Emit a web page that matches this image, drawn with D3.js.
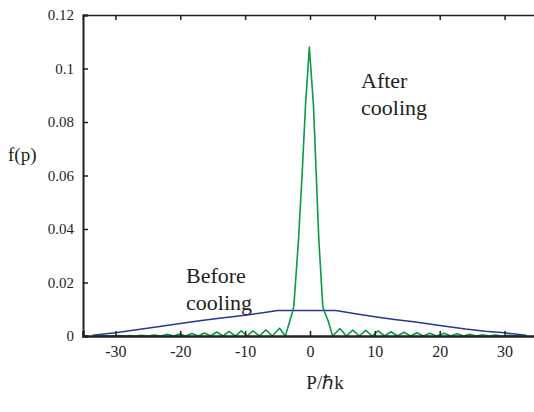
<!DOCTYPE html>
<html>
<head>
<meta charset="utf-8">
<script src="https://cdn.jsdelivr.net/npm/d3@7"></script>
<style>
  body { margin: 0; background: #fff; }
  svg { display: block; }
</style>
</head>
<body>
<svg id="chart"></svg>
<script>
// momentum axis ticks and f(p) ticks
const xTicks = [-30, -20, -10, 0, 10, 20, 30];
const yTicks = [0, 0.02, 0.04, 0.06, 0.08, 0.1, 0.12];

// before cooling (blue)
const beforeP = [-33.5, -30, -27, -24, -20, -17, -14, -10, -7, -5, 0, 4, 7, 10, 13, 16, 20, 24, 27, 30, 33.3];
const beforeF = [0.0003, 0.0012, 0.0022, 0.0033, 0.0047, 0.0057, 0.0066, 0.0078, 0.0088, 0.0095, 0.0095, 0.0095, 0.0083, 0.0072, 0.0062, 0.0053, 0.0039, 0.0026, 0.0018, 0.0012, 0.0003];

// after cooling (green), peak plus side lobes
const afterP = [-33.5, -31.5, -30.5, -29.5, -28.5, -27.8, -26.9, -26, -25, -24, -23, -22, -21,
  -20.1, -19.2, -18.2, -17.2, -16.3, -15.3, -14.4, -13.4, -12.5, -11.5, -10.6, -9.7, -8.8, -7.8,
  -6.8, -5.8, -4.7, -3.8, -2.7, -2.5, -1.77, -1.2, -0.7, -0.1, 0.54, 0.95, 1.36, 1.97, 2.25, 2.75,
  3.5, 4.6, 5.6, 6.6, 7.6, 8.6, 9.6, 10.5, 11.5, 12.5, 13.5, 14.5, 15.5, 16.5, 17.5, 18.5, 19.5,
  20.7, 21.7, 22.7, 23.7, 24.6, 25.6, 26.6, 27.6, 28.6, 29.6, 30.6, 31.6, 32.6, 33.5];
const afterF = [0, 0.0001, 0, 0.0002, 0, 0.0002, 0, 0.0003, 0, 0.0004, 0, 0.0006, 0,
  0.0007, 0, 0.0009, 0, 0.0011, 0, 0.0015, 0, 0.0017, 0, 0.0019, 0, 0.0019, 0,
  0.0023, 0, 0.0029, 0, 0.009, 0.011, 0.036, 0.061, 0.086, 0.108, 0.086, 0.061, 0.036, 0.011, 0.009, 0.006,
  0, 0.0028, 0, 0.0022, 0, 0.0021, 0, 0.0019, 0, 0.0016, 0, 0.0014, 0, 0.0012, 0, 0.001, 0,
  0.001, 0, 0.0008, 0, 0.0006, 0, 0.0005, 0, 0.0004, 0, 0.0003, 0, 0.0002, 0];

const width = 534, height = 412;
const serif = '"Liberation Serif", "Times New Roman", serif';
const svg = d3.select('#chart').attr('width', width).attr('height', height);

const x = d3.scaleLinear().domain([-35, 35]).range([83, 537]);
const y = d3.scaleLinear().domain([0, 0.12]).range([336, 15]);
const axisColor = '#231f20';

// top frame line with ticks
svg.append('g')
  .attr('transform', `translate(0,${y(0.12)})`)
  .call(d3.axisTop(x).tickValues(xTicks).tickSize(-5).tickFormat(''))
  .call(g => g.select('.domain').attr('stroke', axisColor).attr('stroke-width', 1.5))
  .call(g => g.selectAll('.tick line').attr('stroke', axisColor).attr('stroke-width', 1.5));

// lines
const line = (ps, fs) => d3.line()
  .x((d, i) => x(ps[i]))
  .y(d => y(d))(fs);

svg.append('path')
  .attr('d', line(beforeP, beforeF))
  .attr('fill', 'none')
  .attr('stroke', '#2b3597')
  .attr('stroke-width', 1.5);

svg.append('path')
  .attr('d', line(afterP, afterF))
  .attr('fill', 'none')
  .attr('stroke', '#0a9a4a')
  .attr('stroke-width', 1.6)
  .attr('stroke-linejoin', 'round');

// bottom axis
svg.append('g')
  .attr('transform', `translate(0,${y(0)})`)
  .call(d3.axisBottom(x).tickValues(xTicks).tickSize(-5).tickPadding(10).tickFormat(d => d))
  .call(g => g.select('.domain').attr('stroke', axisColor).attr('stroke-width', 2.5))
  .call(g => g.selectAll('.tick line').attr('stroke', axisColor).attr('stroke-width', 1.5))
  .call(g => g.selectAll('text').attr('fill', axisColor)
    .style('font-family', serif).style('font-size', '16px'));

// left axis
svg.append('g')
  .attr('transform', `translate(${x(-35)},0)`)
  .call(d3.axisLeft(y).tickValues(yTicks).tickSize(-5).tickPadding(9).tickFormat(d => String(d)))
  .call(g => g.select('.domain').attr('stroke', axisColor).attr('stroke-width', 2))
  .call(g => g.selectAll('.tick line').attr('stroke', axisColor).attr('stroke-width', 1.5))
  .call(g => g.selectAll('text').attr('fill', axisColor)
    .style('font-family', serif).style('font-size', '15px'));

// labels
const label = (tx, ty, size, str, anchor) => svg.append('text')
  .attr('x', tx).attr('y', ty)
  .attr('text-anchor', anchor || 'start')
  .attr('fill', axisColor)
  .style('font-family', serif)
  .style('font-size', size + 'px')
  .text(str);

label(8, 161, 19, 'f(p)');
label(325, 389, 19, 'P/ℏk', 'middle');
label(361, 88, 22, 'After');
label(361, 115, 22, 'cooling');
label(186, 283, 22, 'Before');
label(186, 310, 22, 'cooling');
</script>
</body>
</html>
